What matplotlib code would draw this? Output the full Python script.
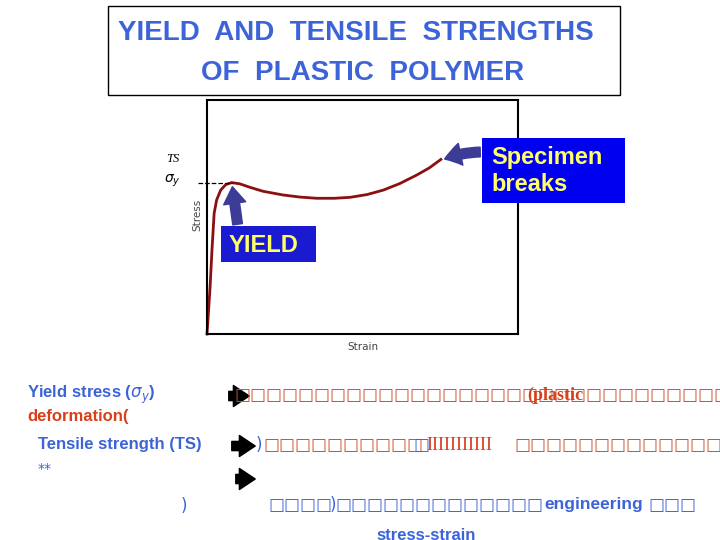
import matplotlib.pyplot as plt
from matplotlib.patches import Rectangle, FancyArrowPatch

# =========================
# data (stress-strain curve, arbitrary units 0..100)
# =========================

strain = [0, 0.5, 1.0, 1.6, 2.3, 3.1, 4.4, 6.0, 7.9, 10.5, 13.8, 18.0,
          24.5, 30.0, 35.3, 41.0, 46.0, 51.5, 56.7, 62.0, 67.4, 71.5, 75.2]
stress = [0, 10.0, 20.2, 35.9, 51.6, 57.3, 61.5, 63.8, 64.7, 64.2, 62.7, 61.0,
          59.4, 58.5, 58.0, 58.0, 58.4, 59.6, 61.5, 64.3, 67.9, 71.0, 74.6]

yield_strain, yield_stress = 7.9, 64.7
ts_stress = 74.6

title_lines = ["YIELD  AND  TENSILE  STRENGTHS", "OF  PLASTIC  POLYMER"]

W, H = 720, 540


def fx(x):
    return x / W


def fy(y):
    return 1 - y / H


def rect(x0, y0, x1, y1, **kw):
    # rectangle given in picture pixels (top-left origin)
    r = Rectangle((fx(x0), fy(y1)), fx(x1) - fx(x0), fy(y0) - fy(y1),
                  transform=fig.transFigure, **kw)
    fig.patches.append(r)


def arrow(p0, p1, ms, color, **kw):
    a = FancyArrowPatch((fx(p0[0]), fy(p0[1])), (fx(p1[0]), fy(p1[1])),
                        transform=fig.transFigure,
                        arrowstyle="simple,head_width=1.6,head_length=1.2,tail_width=0.7",
                        mutation_scale=ms, color=color, **kw)
    fig.patches.append(a)


BLUE_TXT = "#3c64d8"
RED_TXT = "#d8401a"
BOX_RED = "#c8502a"
ARROW_BLUE = "#3c3c96"

fig = plt.figure(figsize=(7.2, 5.4), dpi=100)
fig.patch.set_facecolor("white")

# title box
rect(108, 6, 620, 95, fill=False, edgecolor="black", linewidth=1)
fig.text(fx(356), fy(33), title_lines[0], ha="center", va="center",
         fontsize=20, fontweight="bold", color=BLUE_TXT, family="Liberation Sans")
fig.text(fx(363), fy(73), title_lines[1], ha="center", va="center",
         fontsize=20, fontweight="bold", color=BLUE_TXT, family="Liberation Sans")

# =========================
# stress-strain plot
# =========================

ax = fig.add_axes([fx(207), fy(334), fx(518) - fx(207), fy(100) - fy(334)])
ax.plot(strain, stress, color="#8b1010", linewidth=2, clip_on=False)
ax.plot([-3, yield_strain], [yield_stress, yield_stress], "k--", linewidth=0.9, clip_on=False)
ax.set_xlim(0, 100)
ax.set_ylim(0, 100)
ax.set_xticks([])
ax.set_yticks([])
for s in ax.spines.values():
    s.set_linewidth(1.5)

ax.annotate("", xy=(-1, yield_stress), xycoords="data",
            xytext=(-7.5, yield_stress), textcoords="data",
            arrowprops=dict(arrowstyle="-|>", color="black", lw=0.8, mutation_scale=5))
ax.annotate("", xy=(-3.5, ts_stress), xycoords="data",
            xytext=(-6, ts_stress), textcoords="data",
            arrowprops=dict(arrowstyle="-|>", color="black", lw=0.6, mutation_scale=4))
fig.text(fx(166), fy(159), "TS", fontsize=9, style="italic", family="Liberation Serif",
         va="center")
fig.text(fx(164), fy(181), r"$\sigma_y$", fontsize=10, va="center")
fig.text(fx(197), fy(215), "Stress", fontsize=7.5, rotation=90, color="#444444",
         ha="center", va="center")
fig.text(fx(363), fy(347), "Strain", fontsize=7.5, color="#444444",
         ha="center", va="center")

# annotation boxes
rect(221, 226, 316, 262, facecolor="#1a1ad0", edgecolor="none")
fig.text(fx(229), fy(245), "YIELD", fontsize=17, fontweight="bold", color="#ffff66",
         family="Liberation Sans", va="center")
rect(482, 138, 625, 203, facecolor="#0000f0", edgecolor="none", zorder=3)
fig.text(fx(491), fy(171), "Specimen\nbreaks", fontsize=17, fontweight="bold",
         color="#ffff66", family="Liberation Sans", va="center", linespacing=1.2,
         zorder=4)

arrow((238, 227), (232, 184), 10, ARROW_BLUE)
arrow((483, 152), (442, 160), 10, ARROW_BLUE, connectionstyle="arc3,rad=0.1")

# =========================
# explanation text below
# =========================

for y, x0, x1 in [(396, 226, 252), (446, 229, 258), (479, 233, 258)]:
    arrow((x0, y), (x1, y), 9.5, "black")

fig.text(fx(27), fy(395), r"Yield stress ($\sigma_y$)", fontsize=12, fontweight="bold",
         color=BLUE_TXT, family="Liberation Sans", va="center")
fig.text(fx(27), fy(416), "deformation(", fontsize=12, fontweight="bold",
         color=RED_TXT, family="Liberation Sans", va="center")
fig.text(fx(38), fy(445), "Tensile strength (TS)", fontsize=12, fontweight="bold",
         color=BLUE_TXT, family="Liberation Sans", va="center")
fig.text(fx(38), fy(469), "**", fontsize=10, color=BLUE_TXT, va="center")
fig.text(fx(181), fy(506), ")", fontsize=12, color=BLUE_TXT, va="center")

box = "\u25a1"
BS = 12.2
fig.text(fx(234), fy(395), box * 32, fontsize=BS, color=BOX_RED, va="center")
fig.text(fx(527), fy(395), "(plastic", fontsize=13, fontweight="bold",
         color=RED_TXT, family="Liberation Serif", va="center")

fig.text(fx(256), fy(445), ")", fontsize=12, color=BLUE_TXT, va="center")
fig.text(fx(263), fy(445), box * 10, fontsize=BS, color=BOX_RED, va="center")
fig.text(fx(413), fy(445), box, fontsize=BS, color=BLUE_TXT, va="center")
fig.text(fx(426), fy(445), "IIIIIIIIIII", fontsize=13, color=RED_TXT,
         family="Liberation Serif", va="center")
fig.text(fx(514), fy(445), box * 14, fontsize=BS, color=BOX_RED, va="center")

fig.text(fx(268), fy(505), box * 4, fontsize=BS, color=BLUE_TXT, va="center")
fig.text(fx(330), fy(505), ")", fontsize=12, color=BLUE_TXT, va="center")
fig.text(fx(335), fy(505), box * 13, fontsize=BS, color=BLUE_TXT, va="center")
fig.text(fx(544), fy(505), "engineering", fontsize=12.5, fontweight="bold",
         color=BLUE_TXT, family="Liberation Sans", va="center")
fig.text(fx(648), fy(505), box * 3, fontsize=BS, color=BLUE_TXT, va="center")
fig.text(fx(376), fy(536), "stress-strain", fontsize=12, fontweight="bold",
         color=BLUE_TXT, family="Liberation Sans", va="center")

fig.savefig("out.png", dpi=100)
